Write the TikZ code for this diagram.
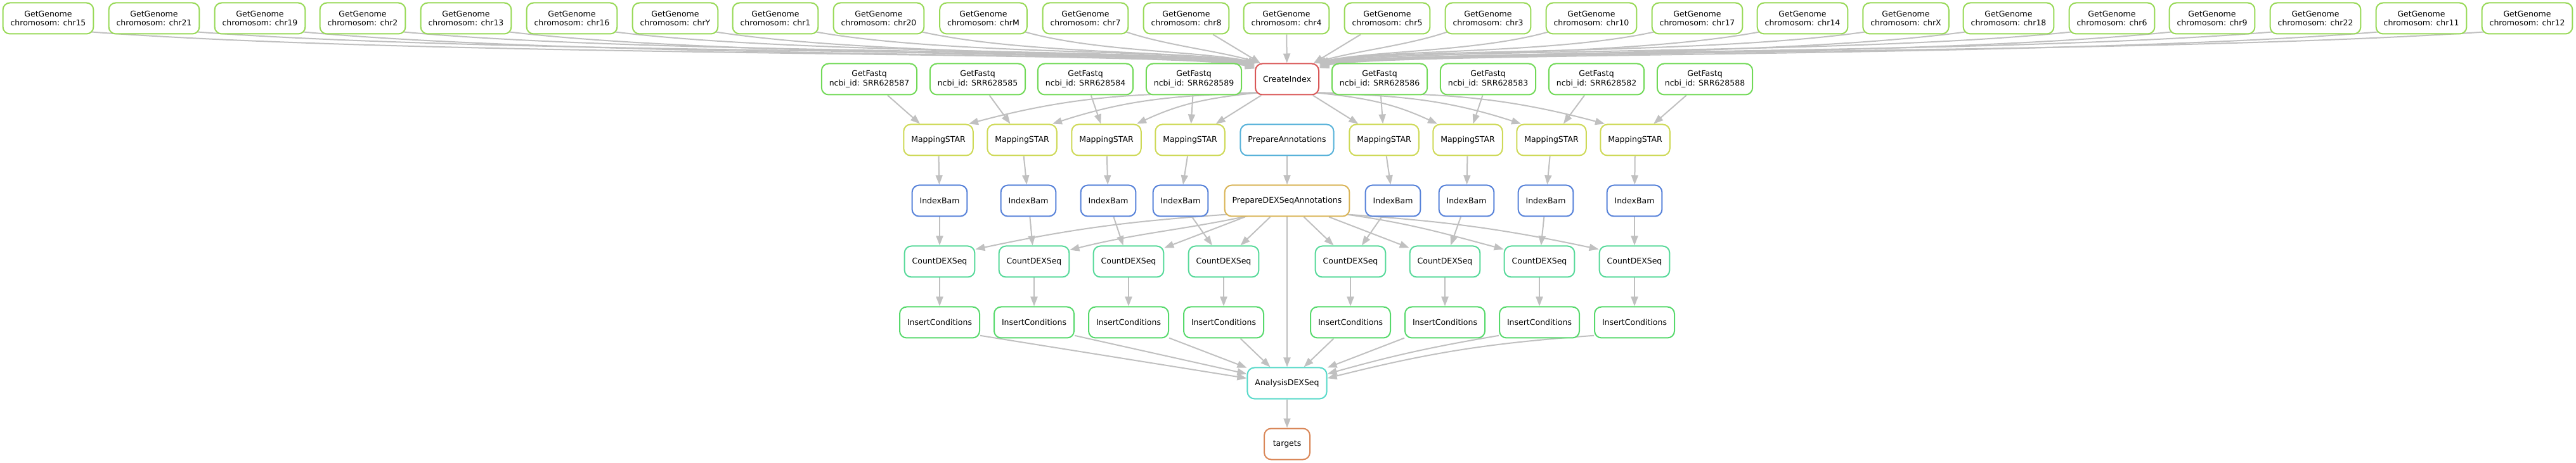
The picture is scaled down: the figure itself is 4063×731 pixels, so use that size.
\documentclass[tikz,border=0pt]{standalone}
\usepackage{fontspec}
\setmainfont{DejaVu Sans}
\usetikzlibrary{arrows.meta}
\definecolor{cGenome}{RGB}{152,217,87}
\definecolor{cFastq}{RGB}{113,217,87}
\definecolor{cIndex}{RGB}{217,87,87}
\definecolor{cMap}{RGB}{206,217,87}
\definecolor{cPrepA}{RGB}{87,178,217}
\definecolor{cBam}{RGB}{87,130,217}
\definecolor{cPrepD}{RGB}{217,180,87}
\definecolor{cCount}{RGB}{87,217,154}
\definecolor{cIns}{RGB}{87,217,108}
\definecolor{cAna}{RGB}{87,217,201}
\definecolor{cTarg}{RGB}{217,134,87}
\definecolor{cEdge}{RGB}{192,192,192}
\pgfdeclarelayer{bg}
\pgfsetlayers{bg,main}
\begin{document}
\begin{tikzpicture}[x=0.5pt,y=0.5pt,
  job/.style={draw=#1, fill=white, line width=1pt, rounded corners=5.5pt,
    minimum height=24.5pt, minimum width=36pt, inner xsep=6pt, inner ysep=2pt,
    align=center, font=\fontsize{6.25pt}{7.2pt}\selectfont},
  edge/.style={draw=cEdge, line width=1pt, -{Triangle[length=7.5pt,width=5.5pt]}}]
\useasboundingbox (0,0) rectangle (4063,-731);
% row 1
\node[job=cGenome] (g15) at (76,-29) {GetGenome\\chromosom: chr15};
\node[job=cGenome] (g21) at (243,-29) {GetGenome\\chromosom: chr21};
\node[job=cGenome] (g19) at (410,-29) {GetGenome\\chromosom: chr19};
\node[job=cGenome] (g2) at (572,-29) {GetGenome\\chromosom: chr2};
\node[job=cGenome] (g13) at (735,-29) {GetGenome\\chromosom: chr13};
\node[job=cGenome] (g16) at (902,-29) {GetGenome\\chromosom: chr16};
\node[job=cGenome] (gY) at (1065,-29) {GetGenome\\chromosom: chrY};
\node[job=cGenome] (g1) at (1223,-29) {GetGenome\\chromosom: chr1};
\node[job=cGenome] (g20) at (1386,-29) {GetGenome\\chromosom: chr20};
\node[job=cGenome] (gM) at (1551,-29) {GetGenome\\chromosom: chrM};
\node[job=cGenome] (g7) at (1712,-29) {GetGenome\\chromosom: chr7};
\node[job=cGenome] (g8) at (1871,-29) {GetGenome\\chromosom: chr8};
\node[job=cGenome] (g4) at (2029,-29) {GetGenome\\chromosom: chr4};
\node[job=cGenome] (g5) at (2188,-29) {GetGenome\\chromosom: chr5};
\node[job=cGenome] (g3) at (2347,-29) {GetGenome\\chromosom: chr3};
\node[job=cGenome] (g10) at (2510,-29) {GetGenome\\chromosom: chr10};
\node[job=cGenome] (g17) at (2677,-29) {GetGenome\\chromosom: chr17};
\node[job=cGenome] (g14) at (2843,-29) {GetGenome\\chromosom: chr14};
\node[job=cGenome] (gX) at (3006,-29) {GetGenome\\chromosom: chrX};
\node[job=cGenome] (g18) at (3168,-29) {GetGenome\\chromosom: chr18};
\node[job=cGenome] (g6) at (3331,-29) {GetGenome\\chromosom: chr6};
\node[job=cGenome] (g9) at (3489,-29) {GetGenome\\chromosom: chr9};
\node[job=cGenome] (g22) at (3652,-29) {GetGenome\\chromosom: chr22};
\node[job=cGenome] (g11) at (3819,-29) {GetGenome\\chromosom: chr11};
\node[job=cGenome] (g12) at (3986,-29) {GetGenome\\chromosom: chr12};
% row 2
\node[job=cFastq] (f87) at (1371,-125) {GetFastq\\ncbi\_id: SRR628587};
\node[job=cFastq] (f85) at (1542,-125) {GetFastq\\ncbi\_id: SRR628585};
\node[job=cFastq] (f84) at (1712,-125) {GetFastq\\ncbi\_id: SRR628584};
\node[job=cFastq] (f89) at (1883,-125) {GetFastq\\ncbi\_id: SRR628589};
\node[job=cIndex] (ci) at (2030,-125) {CreateIndex};
\node[job=cFastq] (f86) at (2176,-125) {GetFastq\\ncbi\_id: SRR628586};
\node[job=cFastq] (f83) at (2347,-125) {GetFastq\\ncbi\_id: SRR628583};
\node[job=cFastq] (f82) at (2518,-125) {GetFastq\\ncbi\_id: SRR628582};
\node[job=cFastq] (f88) at (2689,-125) {GetFastq\\ncbi\_id: SRR628588};
% row 3
\node[job=cMap] (ms1) at (1480,-221) {MappingSTAR};
\node[job=cMap] (ms2) at (1612,-221) {MappingSTAR};
\node[job=cMap] (ms3) at (1745,-221) {MappingSTAR};
\node[job=cMap] (ms4) at (1877,-221) {MappingSTAR};
\node[job=cPrepA] (pa) at (2030,-221) {PrepareAnnotations};
\node[job=cMap] (ms5) at (2183,-221) {MappingSTAR};
\node[job=cMap] (ms6) at (2315,-221) {MappingSTAR};
\node[job=cMap] (ms7) at (2447,-221) {MappingSTAR};
\node[job=cMap] (ms8) at (2579,-221) {MappingSTAR};
% row 4
\node[job=cBam] (ib1) at (1482,-317) {IndexBam};
\node[job=cBam] (ib2) at (1622,-317) {IndexBam};
\node[job=cBam] (ib3) at (1748,-317) {IndexBam};
\node[job=cBam] (ib4) at (1862,-317) {IndexBam};
\node[job=cPrepD] (pda) at (2030,-317) {PrepareDEXSeqAnnotations};
\node[job=cBam] (ib5) at (2197,-317) {IndexBam};
\node[job=cBam] (ib6) at (2313,-317) {IndexBam};
\node[job=cBam] (ib7) at (2438,-317) {IndexBam};
\node[job=cBam] (ib8) at (2578,-317) {IndexBam};
% row 5
\node[job=cCount] (cd1) at (1482,-413) {CountDEXSeq};
\node[job=cCount] (cd2) at (1631,-413) {CountDEXSeq};
\node[job=cCount] (cd3) at (1780,-413) {CountDEXSeq};
\node[job=cCount] (cd4) at (1930,-413) {CountDEXSeq};
\node[job=cCount] (cd5) at (2130,-413) {CountDEXSeq};
\node[job=cCount] (cd6) at (2279,-413) {CountDEXSeq};
\node[job=cCount] (cd7) at (2428,-413) {CountDEXSeq};
\node[job=cCount] (cd8) at (2578,-413) {CountDEXSeq};
% row 6
\node[job=cIns] (ic1) at (1482,-509) {InsertConditions};
\node[job=cIns] (ic2) at (1631,-509) {InsertConditions};
\node[job=cIns] (ic3) at (1780,-509) {InsertConditions};
\node[job=cIns] (ic4) at (1930,-509) {InsertConditions};
\node[job=cIns] (ic5) at (2130,-509) {InsertConditions};
\node[job=cIns] (ic6) at (2279,-509) {InsertConditions};
\node[job=cIns] (ic7) at (2428,-509) {InsertConditions};
\node[job=cIns] (ic8) at (2578,-509) {InsertConditions};
% rows 7-8
\node[job=cAna] (ad) at (2030,-605) {AnalysisDEXSeq};
\node[job=cTarg] (tg) at (2030,-701) {targets};

\begin{pgfonlayer}{bg}
% GetGenome -> CreateIndex (left)
\draw[edge] ([shift={(-4,4)}]g15.south east) .. controls (700,-92) and (1890,-80) .. (ci.162);
\draw[edge] ([shift={(-4,4)}]g21.south east) .. controls (815,-88) and (1895,-76) .. (ci.161);
\draw[edge] ([shift={(-4,4)}]g19.south east) .. controls (932,-92) and (1890,-82) .. (ci.160);
\draw[edge] ([shift={(-4,4)}]g2.south east) .. controls (1043,-88) and (1895,-76) .. (ci.159);
\draw[edge] ([shift={(-4,4)}]g13.south east) .. controls (1160,-92) and (1890,-82) .. (ci.158);
\draw[edge] ([shift={(-4,4)}]g16.south east) .. controls (1276,-88) and (1895,-78) .. (ci.157);
\draw[edge] ([shift={(-4,4)}]gY.south east) .. controls (1387,-90) and (1890,-82) .. (ci.156);
\draw[edge] ([shift={(-4,4)}]g1.south east) .. controls (1499,-88) and (1890,-78) .. (ci.155);
\draw[edge] ([shift={(-4,4)}]g20.south east) .. controls (1615,-86) and (1870,-80) .. (ci.153);
\draw[edge] ([shift={(-4,4)}]gM.south east) .. controls (1730,-82) and (1890,-80) .. (ci.151);
\draw[edge] ([shift={(-4,4)}]g7.south east) .. controls (1841,-72) and (1920,-80) .. (ci.149);
\draw[edge] (g8) -- (ci);
\draw[edge] (g4) -- (ci);
\draw[edge] (g5) -- (ci);
% GetGenome -> CreateIndex (right)
\draw[edge] ([shift={(4,4)}]g3.south west) .. controls (2219,-72) and (2140,-80) .. (ci.31);
\draw[edge] ([shift={(4,4)}]g10.south west) .. controls (2330,-82) and (2160,-80) .. (ci.29);
\draw[edge] ([shift={(4,4)}]g17.south west) .. controls (2447,-86) and (2168,-78) .. (ci.27);
\draw[edge] ([shift={(4,4)}]g14.south west) .. controls (2563,-90) and (2170,-82) .. (ci.26);
\draw[edge] ([shift={(4,4)}]gX.south west) .. controls (2679,-88) and (2165,-76) .. (ci.25);
\draw[edge] ([shift={(4,4)}]g18.south west) .. controls (2791,-92) and (2170,-82) .. (ci.24);
\draw[edge] ([shift={(4,4)}]g6.south west) .. controls (2908,-88) and (2165,-76) .. (ci.23);
\draw[edge] ([shift={(4,4)}]g9.south west) .. controls (3018,-92) and (2170,-82) .. (ci.22);
\draw[edge] ([shift={(4,4)}]g22.south west) .. controls (3130,-88) and (2165,-78) .. (ci.21);
\draw[edge] ([shift={(4,4)}]g11.south west) .. controls (3246,-92) and (2170,-82) .. (ci.20);
\draw[edge] ([shift={(4,4)}]g12.south west) .. controls (3364,-88) and (2165,-78) .. (ci.19);
% GetFastq -> MappingSTAR
\draw[edge] (f87) -- (ms1);
\draw[edge] (f85) -- (ms2);
\draw[edge] (f84) -- (ms3);
\draw[edge] (f89) -- (ms4);
\draw[edge] (f86) -- (ms5);
\draw[edge] (f83) -- (ms6);
\draw[edge] (f82) -- (ms7);
\draw[edge] (f88) -- (ms8);
% CreateIndex -> MappingSTAR
\draw[edge] ([shift={(4,4)}]ci.south west) to[out=180,in=15] (ms1.28);
\draw[edge] ([shift={(4,4)}]ci.south west) to[out=182,in=18] (ms2.28);
\draw[edge] ([shift={(4,4)}]ci.south west) to[out=186,in=25] (ms3.28);
\draw[edge] (ci) -- (ms4);
\draw[edge] (ci) -- (ms5);
\draw[edge] ([shift={(-4,4)}]ci.south east) to[out=-6,in=155] (ms6.152);
\draw[edge] ([shift={(-4,4)}]ci.south east) to[out=-2,in=162] (ms7.152);
\draw[edge] ([shift={(-4,4)}]ci.south east) to[out=0,in=165] (ms8.152);
% MappingSTAR -> IndexBam
\draw[edge] (ms1) -- (ib1);
\draw[edge] (ms2) -- (ib2);
\draw[edge] (ms3) -- (ib3);
\draw[edge] (ms4) -- (ib4);
\draw[edge] (ms5) -- (ib5);
\draw[edge] (ms6) -- (ib6);
\draw[edge] (ms7) -- (ib7);
\draw[edge] (ms8) -- (ib8);
\draw[edge] (pa) -- (pda);
% IndexBam -> CountDEXSeq
\draw[edge] (ib1) -- (cd1);
\draw[edge] (ib2) -- (cd2);
\draw[edge] (ib3) -- (cd3);
\draw[edge] (ib4) -- (cd4);
\draw[edge] (ib5) -- (cd5);
\draw[edge] (ib6) -- (cd6);
\draw[edge] (ib7) -- (cd7);
\draw[edge] (ib8) -- (cd8);
% PrepareDEXSeqAnnotations -> CountDEXSeq
\draw[edge] ([shift={(6,4)}]pda.south west) to[out=184,in=12] (cd1.19);
\draw[edge] ([shift={(40,2)}]pda.south west) to[out=192,in=14] (cd2.18);
\draw[edge] (pda) -- (cd3);
\draw[edge] (pda) -- (cd4);
\draw[edge] (pda) -- (cd5);
\draw[edge] (pda) -- (cd6);
\draw[edge] ([shift={(-6,4)}]pda.south east) to[out=-8,in=165] (cd7.161);
\draw[edge] ([shift={(-6,4)}]pda.south east) to[out=-4,in=168] (cd8.161);
\draw[edge] (pda) -- (ad);
% CountDEXSeq -> InsertConditions
\draw[edge] (cd1) -- (ic1);
\draw[edge] (cd2) -- (ic2);
\draw[edge] (cd3) -- (ic3);
\draw[edge] (cd4) -- (ic4);
\draw[edge] (cd5) -- (ic5);
\draw[edge] (cd6) -- (ic6);
\draw[edge] (cd7) -- (ic7);
\draw[edge] (cd8) -- (ic8);
% InsertConditions -> AnalysisDEXSeq
\draw[edge] (ic1.-18) -- (ad.173);
\draw[edge] (ic2.-18) -- (ad.167);
\draw[edge] (ic3) -- (ad);
\draw[edge] (ic4) -- (ad);
\draw[edge] (ic5) -- (ad);
\draw[edge] (ic6) -- (ad);
\draw[edge] (ic7.198) to[bend right=3] (ad.13);
\draw[edge] (ic8.198) to[bend right=5] (ad.7);
\draw[edge] (ad) -- (tg);
\end{pgfonlayer}
\end{tikzpicture}
\end{document}
